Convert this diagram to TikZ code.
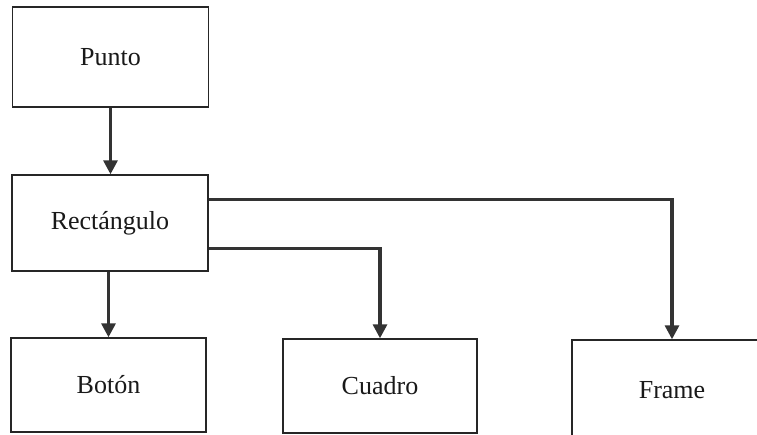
\documentclass[tikz,border=0pt]{standalone}
\usepackage{fontspec}
\setmainfont{Liberation Serif}
\usetikzlibrary{arrows.meta,calc}
\begin{document}
\begin{tikzpicture}[x=1pt,y=-1pt,
  box/.style={draw=black!85,line width=1.4pt,fill=white,inner sep=0pt,
    font=\fontsize{26}{30}\selectfont,text=black!90},
  conn/.style={draw=black!80,line width=3.2pt,
    -{Triangle[length=14pt,width=14pt]}}]
\useasboundingbox (0,0) rectangle (757,435);
\clip (0,0) rectangle (757,435);
% class boxes
\node[box,minimum width=196pt,minimum height=100pt] (P) at (110.5,57) {Punto};
\node[box,minimum width=196pt,minimum height=96pt] (R) at (110,223) {Rectángulo};
\node[box,minimum width=195pt,minimum height=94pt] (B) at (108.5,385) {Botón};
\node[box,minimum width=194pt,minimum height=94pt] (C) at (380,386) {Cuadro};
\node[box,minimum width=200pt,minimum height=100pt] (F) at (672,390) {Frame};
% inheritance connectors
\draw[conn] (P.south) -- (P.south |- R.north);
\draw[conn] (R.south -| B.north) -- (B.north);
\draw[conn] ($(R.north east)+(0,25)$) -| (F.north);
\draw[conn] ($(R.north east)+(0,74)$) -| (C.north);
\end{tikzpicture}
\end{document}
